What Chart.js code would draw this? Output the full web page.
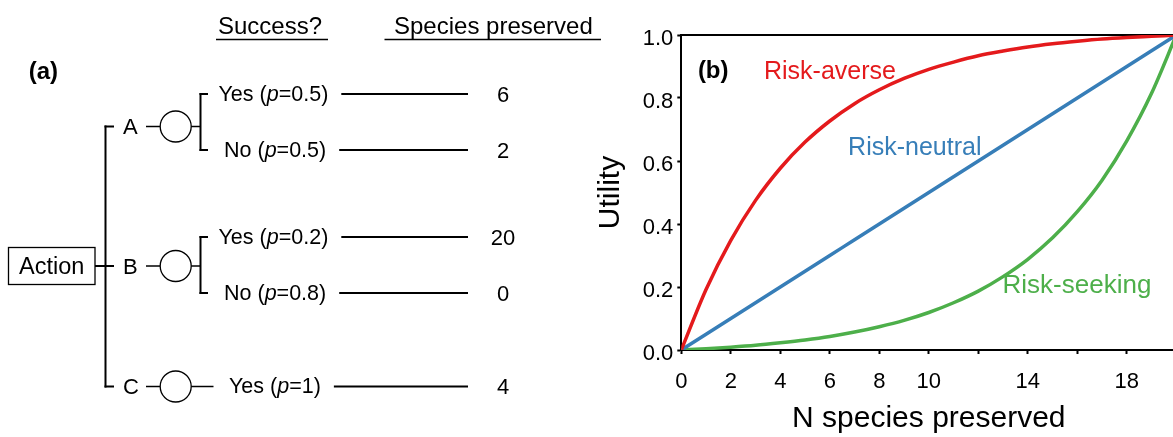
<!DOCTYPE html>
<html><head><meta charset="utf-8">
<script src="https://cdn.jsdelivr.net/npm/chart.js@4/dist/chart.umd.min.js"></script>
<style>
html,body{margin:0;padding:0;background:#fff;width:1173px;height:437px;overflow:hidden;}
#wrap{position:relative;width:1173px;height:437px;overflow:hidden;background:#fff;}
#cwrap{position:absolute;left:590px;top:0;width:600px;height:437px;}
#tree{position:absolute;left:0;top:0;}
</style></head><body>
<div id="wrap">
  <div id="cwrap"><canvas id="c" width="600" height="437"></canvas></div>
  <svg id="tree" xmlns="http://www.w3.org/2000/svg" width="610" height="437"></svg>
</div>
<script>
// ---------- data ----------
const nSpecies     = [0,1,2,3,4,5,6,7,8,9,10,11,12,13,14,15,16,17,18,19,20];
const riskAverse   = [0,0.192,0.348,0.475,0.577,0.66,0.727,0.782,0.826,0.862,0.891,0.914,0.934,0.949,0.962,0.972,0.98,0.987,0.992,0.996,1];
const riskNeutral  = [0,0.05,0.1,0.15,0.2,0.25,0.3,0.35,0.4,0.45,0.5,0.55,0.6,0.65,0.7,0.75,0.8,0.85,0.9,0.95,1];
const riskSeeking  = [0,0.004,0.009,0.015,0.023,0.032,0.043,0.057,0.074,0.094,0.119,0.15,0.187,0.233,0.288,0.356,0.439,0.539,0.664,0.815,1];
const xTickLabels  = ['0','2','4','6','8','10','','14','','18',''];
const yTickLabels  = ['0.0','0.2','0.4','0.6','0.8','1.0'];
const seriesNames  = ['Risk-averse','Risk-neutral','Risk-seeking'];

const actions          = ['A','B','C'];
const outcomes         = [['Yes','No'],['Yes','No'],['Yes']];
const probabilities    = [['0.5','0.5'],['0.2','0.8'],['1']];
const speciesPreserved = [[6,2],[20,0],[4]];

const FONT = "'Liberation Sans', Arial, Helvetica, sans-serif";
const RED = '#e41a1c', BLUE = '#377eb8', GREEN = '#4daf4a';

// ---------- panel (b) ----------
const toXY = arr => arr.map((v,i)=>({x:nSpecies[i], y:v}));

const frameTop = {
  id:'frameTop',
  beforeDatasetsDraw(chart){
    const {ctx, chartArea:a} = chart;
    ctx.save(); ctx.strokeStyle='#000'; ctx.lineWidth=2;
    ctx.beginPath(); ctx.moveTo(a.left-1, a.top); ctx.lineTo(a.right+2, a.top); ctx.stroke();
    ctx.restore();
  }
};
const curveLabels = {
  id:'curveLabels',
  afterDatasetsDraw(chart, args, opts){
    const {ctx, scales:{x,y}} = chart;
    opts.items.forEach(it=>{
      ctx.save();
      ctx.font = (it.bold?'bold ':'') + it.size + 'px ' + FONT;
      ctx.fillStyle = it.color; ctx.textAlign='left'; ctx.textBaseline='middle';
      ctx.fillText(it.text, x.getPixelForValue(it.x), y.getPixelForValue(it.y));
      ctx.restore();
    });
  }
};

new Chart(document.getElementById('c'), {
  type:'line',
  data:{
    datasets:[
      {label:seriesNames[0], data:toXY(riskAverse),  borderColor:RED},
      {label:seriesNames[1], data:toXY(riskNeutral), borderColor:BLUE},
      {label:seriesNames[2], data:toXY(riskSeeking), borderColor:GREEN}
    ]
  },
  options:{
    responsive:false, animation:false, devicePixelRatio:1,
    layout:{padding:{top:35,right:13.7,bottom:0,left:0}},
    elements:{point:{radius:0}, line:{borderWidth:3.5, cubicInterpolationMode:'monotone', fill:false}},
    plugins:{
      legend:{display:false}, tooltip:{enabled:false},
      curveLabels:{items:[
        {text:'(b)', x:0.67, y:0.886, size:24, bold:true, color:'#000'},
        {text:seriesNames[0], x:3.34, y:0.883, size:25, color:RED},
        {text:seriesNames[1], x:6.74, y:0.640, size:25, color:BLUE},
        {text:seriesNames[2], x:12.98, y:0.203, size:26, color:GREEN}
      ]}
    },
    scales:{
      x:{
        type:'linear', min:0, max:20,
        ticks:{stepSize:2, autoSkip:false, maxRotation:0, padding:15, color:'#000',
               font:{size:22, family:FONT}, callback:(v,i)=>xTickLabels[i]},
        grid:{drawOnChartArea:false, drawTicks:true, tickLength:4, tickWidth:2, tickColor:'#000'},
        border:{display:true, color:'#000', width:2},
        title:{display:true, text:'N species preserved', color:'#000', font:{size:30, family:FONT}, padding:{top:0,bottom:0}},
        afterFit(s){ s.height = 87; s.paddingLeft = 0; s.paddingRight = 0; }
      },
      y:{
        type:'linear', min:0, max:1,
        ticks:{stepSize:0.2, padding:4, labelOffset:4, color:'#000',
               font:{size:22, family:FONT}, callback:(v,i)=>yTickLabels[i]},
        grid:{drawOnChartArea:false, drawTicks:true, tickLength:4, tickWidth:2, tickColor:'#000'},
        border:{display:true, color:'#000', width:2},
        title:{display:true, text:'Utility', color:'#000', font:{size:30, family:FONT}, padding:{top:3,bottom:0}},
        afterFit(s){ s.width = 91.3; s.paddingTop = 0; s.paddingBottom = 0; }
      }
    }
  },
  plugins:[frameTop, curveLabels]
});

// ---------- panel (a): decision tree ----------
const svg = document.getElementById('tree');
const NS = 'http://www.w3.org/2000/svg';
function el(tag, attrs, parent){
  const e = document.createElementNS(NS, tag);
  for (const k in attrs) e.setAttribute(k, attrs[k]);
  (parent||svg).appendChild(e); return e;
}
function line(x1,y1,x2,y2,w){ return el('line',{x1,y1,x2,y2,stroke:'#000','stroke-width':w||2}); }
function text(str,x,cy,size,opts){
  opts = opts||{};
  const t = el('text',{x, y:cy+size*0.36, 'font-family':FONT, 'font-size':size, fill:'#000',
    'text-anchor':opts.anchor||'start', 'font-weight':opts.bold?'bold':'normal'});
  t.textContent = str; return t;
}

// headers
text('Success?', 218, 25, 24);
line(216, 39.5, 328, 39.5, 1.5);
text('Species preserved', 394, 25, 24);
line(384.5, 39.5, 601, 39.5, 1.5);
text('(a)', 28.7, 70, 24, {bold:true});

// layout (geometry only)
const actionY  = [126.5, 266, 386.5];
const outcomeY = [[94,150],[237,293],[386.5]];
const trunkX = 105.5, circleX = 175.7, circleR = 15.5, bracketX = 200.5;

// Action box and trunk
el('rect',{x:8.5,y:247.5,width:86.5,height:37,fill:'#fff',stroke:'#000','stroke-width':1.3});
text('Action', 51.75, 265.5, 23.5, {anchor:'middle'});
line(trunkX, actionY[0]-1, trunkX, actionY[actions.length-1]+1, 2);
line(95, 266, 114, 266, 2);

actions.forEach((a,i)=>{
  const ay = actionY[i];
  line(trunkX-1, ay, 114, ay, 2);
  text(a, 123, ay, 22);
  line(146, ay, circleX-circleR, ay, 1.5);
  el('circle',{cx:circleX, cy:ay, r:circleR, fill:'#fff', stroke:'#000','stroke-width':1.3});
  const outs = outcomes[i];
  if (outs.length > 1){
    line(circleX+circleR, ay, bracketX, ay, 1.5);
    const y0 = outcomeY[i][0], y1 = outcomeY[i][outs.length-1];
    line(bracketX, y0-1, bracketX, y1+1, 2);
    line(bracketX-1, y0, 208, y0, 2);
    line(bracketX-1, y1, 208, y1, 2);
  } else {
    line(circleX+circleR, ay, 213.5, ay, 1.5);
  }
  outs.forEach((o,j)=>{
    const oy = outcomeY[i][j];
    const tx = outs.length===1 ? 229 : (j===0 ? 218.5 : 224);
    const fs = 21.5;
    const t = el('text',{x:tx, y:oy-1+fs*0.36, 'font-family':FONT, 'font-size':fs, fill:'#000'});
    const s1 = document.createElementNS(NS,'tspan'); s1.textContent = o + ' ('; t.appendChild(s1);
    const s2 = document.createElementNS(NS,'tspan'); s2.setAttribute('font-style','italic'); s2.textContent = 'p'; t.appendChild(s2);
    const s3 = document.createElementNS(NS,'tspan'); s3.textContent = '=' + probabilities[i][j] + ')'; t.appendChild(s3);
    const w = t.getComputedTextLength();
    line(tx + w + 13, oy, 468, oy, 2);
    text(String(speciesPreserved[i][j]), 503, oy, 22, {anchor:'middle'});
  });
});
</script>
</body></html>
